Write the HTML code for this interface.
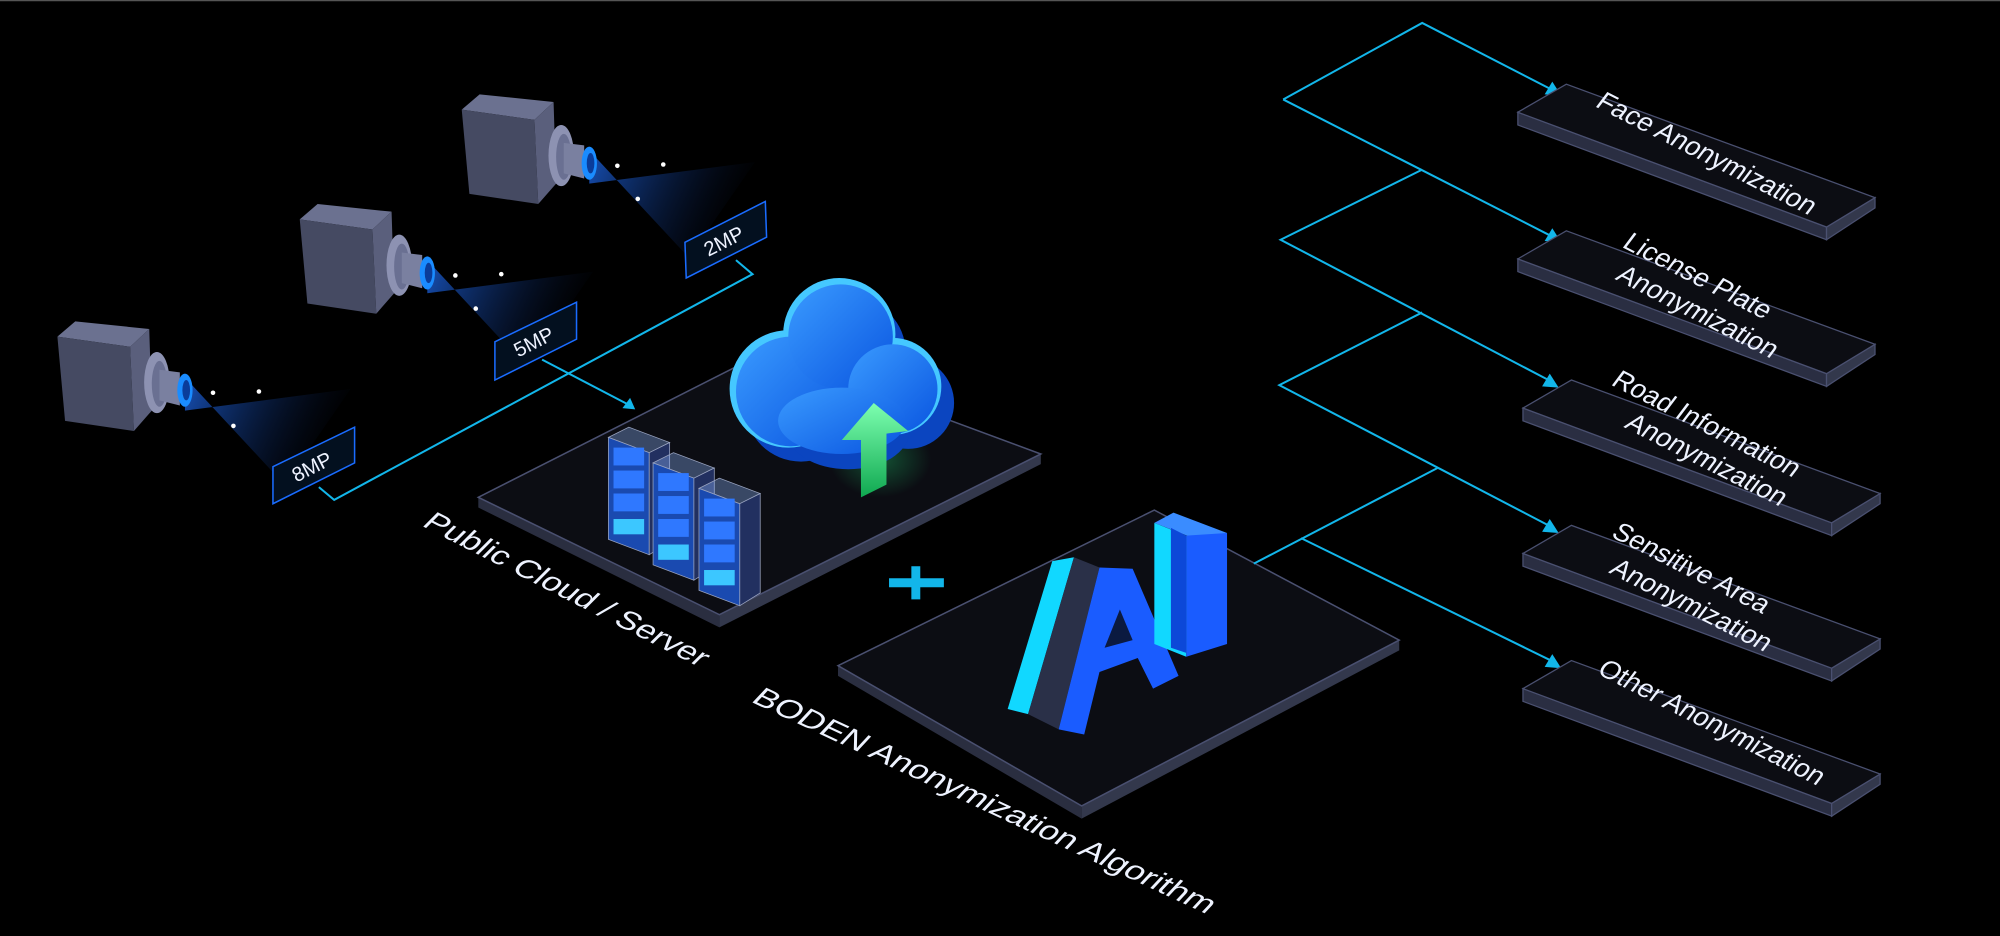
<!DOCTYPE html>
<html><head><meta charset="utf-8"><style>
html,body{margin:0;padding:0;background:#000;}
svg{display:block;}
text{font-family:"Liberation Sans","DejaVu Sans",sans-serif;fill:#eef3ff;}
</style></head><body>
<svg width="2000" height="936" viewBox="0 0 1568 734" preserveAspectRatio="none" xmlns="http://www.w3.org/2000/svg">
<defs>
<linearGradient id="cone" x1="0" y1="0" x2="1" y2="0.3">
<stop offset="0" stop-color="#1b5fd8" stop-opacity="0.85"/>
<stop offset="1" stop-color="#0a1a40" stop-opacity="0"/>
</linearGradient>
<linearGradient id="cloud" x1="0" y1="0" x2="1" y2="1">
<stop offset="0" stop-color="#3a9bff"/><stop offset="1" stop-color="#0a55e0"/>
</linearGradient>
<linearGradient id="green" x1="0" y1="0" x2="0" y2="1">
<stop offset="0" stop-color="#7dffb0"/><stop offset="1" stop-color="#0fa850"/>
</linearGradient>
<radialGradient id="glow" cx="0.5" cy="0.5" r="0.5">
<stop offset="0" stop-color="#20d070" stop-opacity="0.35"/><stop offset="1" stop-color="#20d070" stop-opacity="0"/>
</radialGradient>
<g id="cam">
<polygon points="100,46 100,72 230,55 178,130" fill="url(#cone)"/>
<polygon points="0,14 14,2 72,8 57,22" fill="#6b7190"/>
<polygon points="0,14 57,22 60,88 6,80" fill="#454a62"/>
<polygon points="57,22 72,8 74,72 60,88" fill="#5a5f7c"/>
<ellipse cx="78" cy="50" rx="10" ry="24" fill="#8d92b2"/>
<ellipse cx="80" cy="51" rx="6" ry="18" fill="#6a7092"/>
<polygon points="80,40 96,42 96,68 80,64" fill="#7a80a0"/>
<ellipse cx="100" cy="56" rx="6" ry="13" fill="#1a8cff"/>
<ellipse cx="101" cy="56" rx="3" ry="8" fill="#0a3c9a"/>
<circle cx="122" cy="58" r="1.8" fill="#fff"/>
<circle cx="158" cy="57" r="1.8" fill="#fff"/>
<circle cx="138" cy="84" r="1.8" fill="#fff"/>
</g>
<g id="rack">
<polygon points="0,8 16,0 48,12 32,20" fill="#8fb8ff" fill-opacity="0.35" stroke="#9aa4c0" stroke-width="0.6"/>
<polygon points="0,8 32,20 32,100 0,88" fill="#1a4ab0" stroke="#9aa4c0" stroke-width="0.6"/>
<polygon points="32,20 48,12 48,90 32,100" fill="#223060" stroke="#9aa4c0" stroke-width="0.6"/>
<rect x="4" y="16" width="24" height="14" fill="#2f78ff"/>
<rect x="4" y="34" width="24" height="14" fill="#2f78ff"/>
<rect x="4" y="52" width="24" height="14" fill="#2f78ff"/>
<rect x="4" y="72" width="24" height="12" fill="#3cc7ff"/>
</g>
<g id="panel">
<polygon points="0,0 242,90 242,100 0,10" fill="#2a2e42" stroke="#4a5070"/>
<polygon points="242,90 280,67 280,75 242,100" fill="#33384c" stroke="#4a5070"/>
<polygon points="0,0 38,-22 280,67 242,90" fill="#0c0d13" stroke="#4a5070"/>
</g>
</defs>
<rect width="1568" height="734" fill="#000"/>
<line x1="0" y1="0.5" x2="1568" y2="0.5" stroke="#555" stroke-width="1"/>

<use href="#cam" x="362" y="72"/>
<use href="#cam" x="235" y="158"/>
<use href="#cam" x="45" y="250"/>

<g fill="none" stroke="#12b6ea" stroke-width="1.6">
<polyline points="250,382 262,392 590,215 577,204"/>
<line x1="425" y1="282" x2="494" y2="318"/>
</g>
<polygon points="498,321 488,320 494,312" fill="#12b6ea"/>

<g stroke="#1a6cff" stroke-width="1.2" fill="#03101f">
<polygon points="537,190 600,158 601,186 538,218"/>
<polygon points="388,268 452,237 452,266 388,298"/>
<polygon points="214,366 278,335 278,363 214,395"/>
</g>
<g font-size="16" text-anchor="middle">
<text transform="translate(570,194) rotate(-27)">2MP</text>
<text transform="translate(421,273) rotate(-27)">5MP</text>
<text transform="translate(247,371) rotate(-27)">8MP</text>
</g>

<polygon points="375,390 564,482 564,492 375,398" fill="#2a2e40"/>
<polygon points="564,482 816,356 816,364 564,492" fill="#33384c"/>
<polygon points="375,390 600,276 816,356 564,482" fill="#0c0d13" stroke="#4a5070" stroke-width="1.2"/>

<use href="#rack" x="477" y="335"/>
<use href="#rack" x="512" y="355"/>
<use href="#rack" x="548" y="375"/>

<ellipse cx="690" cy="360" rx="40" ry="30" fill="url(#glow)"/>
<g fill="#0b45c0">
<circle cx="628" cy="318" r="44"/><circle cx="668" cy="276" r="42"/><circle cx="712" cy="316" r="36"/><ellipse cx="665" cy="338" rx="48" ry="30"/>
</g>
<g fill="#45c8ff">
<circle cx="618" cy="305" r="46"/><circle cx="658" cy="262" r="44"/><circle cx="700" cy="303" r="38"/>
</g>
<g fill="url(#cloud)">
<circle cx="620" cy="307" r="43"/><circle cx="659" cy="264" r="41"/><circle cx="700" cy="305" r="35"/>
<ellipse cx="660" cy="330" rx="50" ry="26"/>
</g>
<polygon points="685,316 660,345 675,345 675,390 695,380 695,340 712,338" fill="url(#green)"/>

<g stroke="#12b6ea" stroke-width="7">
<line x1="697" y1="457" x2="740" y2="457"/><line x1="718" y1="444" x2="718" y2="470"/>
</g>

<polygon points="657,522 848,632 848,642 657,530" fill="#2a2e40"/>
<polygon points="848,632 1097,502 1097,510 848,642" fill="#33384c"/>
<polygon points="657,522 905,400 1097,502 848,632" fill="#0c0d13" stroke="#4a5070" stroke-width="1.2"/>

<polygon points="790,556 825,440 842,437 806,560" fill="#11d8ff"/>
<polygon points="806,560 842,437 862,445 830,572" fill="#2a3048"/>
<polygon points="830,572 862,445 888,446 924,530 904,540 892,516 862,527 850,576" fill="#1a5cff"/>
<polygon points="866,508 878,478 888,502" fill="#0b1a40"/>
<polygon points="905,410 920,402 962,418 946,426" fill="#3a8cff"/>
<polygon points="905,410 930,420 930,515 905,505" fill="#11d8ff"/>
<polygon points="930,420 962,418 962,505 930,515" fill="#1a5cff"/>
<polygon points="918,414 930,420 930,512 918,508" fill="#0c48d8"/>

<text transform="translate(330,412) rotate(27) skewX(-18)" font-size="22" textLength="245" lengthAdjust="spacingAndGlyphs">Public Cloud / Server</text>
<text transform="translate(588,550) rotate(25) skewX(-18)" font-size="22" textLength="395" lengthAdjust="spacingAndGlyphs">BODEN Anonymization Algorithm</text>

<g fill="none" stroke="#12b6ea" stroke-width="1.6">
<polyline points="1006,78 1115,18 1216,70"/>
<line x1="1006" y1="78" x2="1216" y2="185"/>
<polyline points="1115,133 1004,188 1214,298"/>
<polyline points="1115,245 1003,302 1214,412"/>
<line x1="983" y1="442" x2="1127" y2="367"/>
<line x1="1020" y1="422" x2="1216" y2="518"/>
</g>
<g fill="#12b6ea">
<polygon points="1224,75 1211,74 1217,64"/>
<polygon points="1224,190 1211,189 1217,179"/>
<polygon points="1222,304 1209,303 1215,293"/>
<polygon points="1222,418 1209,417 1215,407"/>
<polygon points="1224,524 1211,523 1217,513"/>
</g>

<use href="#panel" x="1190" y="88"/>
<use href="#panel" x="1190" y="203"/>
<use href="#panel" x="1194" y="320"/>
<use href="#panel" x="1194" y="434"/>
<use href="#panel" x="1194" y="540"/>

<g font-size="21" text-anchor="middle">
<text transform="translate(1334,126) rotate(27) skewX(-10)">Face Anonymization</text>
<text transform="translate(1327,222) rotate(27) skewX(-10)">License Plate</text>
<text transform="translate(1327,250) rotate(27) skewX(-10)">Anonymization</text>
<text transform="translate(1334,338) rotate(27) skewX(-10)">Road Information</text>
<text transform="translate(1334,366) rotate(27) skewX(-10)">Anonymization</text>
<text transform="translate(1322,451) rotate(27) skewX(-10)">Sensitive Area</text>
<text transform="translate(1322,480) rotate(27) skewX(-10)">Anonymization</text>
<text transform="translate(1338,572) rotate(27) skewX(-10)">Other Anonymization</text>
</g>
</svg>
</body></html>
